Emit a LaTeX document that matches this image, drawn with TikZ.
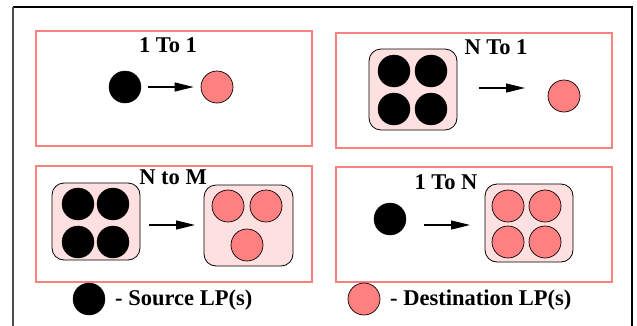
\documentclass[tikz,border=0pt]{standalone}
\usepackage{fontspec}
\setmainfont{Liberation Serif}
\usetikzlibrary{arrows.meta}
\definecolor{salmon}{HTML}{FF8080}
\definecolor{lightpink}{HTML}{FFE0E0}
\tikzset{
  panel/.style={draw=salmon, line width=2pt},
  src/.style={circle, fill=black, draw=black, minimum size=32pt, inner sep=0pt},
  dst/.style={circle, fill=salmon, draw=black, line width=0.7pt, minimum size=32pt, inner sep=0pt},
  grp/.style={draw=black, fill=lightpink, rounded corners=12pt, line width=0.8pt},
  arr/.style={draw=black, line width=1.2pt, -{Triangle[length=19pt,width=9pt]}},
  ttl/.style={font=\fontsize{22.5}{26}\selectfont\bfseries, inner sep=0pt},
}
\begin{document}
\begin{tikzpicture}[x=1pt,y=-1pt]
\useasboundingbox (0,0) rectangle (637,325);
\clip (0,0) rectangle (637,325);
\draw[line width=1.2pt] (13,7) -- (632,7) -- (632,330);
\draw[line width=1.2pt, black!70] (13,7) -- (13,330);
% Panel 1: 1 To 1
\draw[panel] (36,31) rectangle (312,146);
\node[ttl] (t1) at (168,45) {1 To 1};
\node[src] (a1) at (125,87) {};
\node[dst] (b1) at (217,87) {};
\draw[arr, shorten <=7pt, shorten >=7pt] (a1) -- (b1);
% Panel 2: N To 1
\draw[panel] (336,33) rectangle (612,148);
\node[ttl] (t2) at (496,47) {N To 1};
\draw[grp] (369,49) rectangle (457,130);
\node[src] (a2a) at (394,71) {};
\node[src] (a2b) at (431,71) {};
\node[src] (a2c) at (394,109) {};
\node[src] (a2d) at (431,109) {};
\node[dst] (b2) at (564,96) {};
\coordinate (s2) at (479,88);
\coordinate (e2) at (525,88);
\draw[arr] (s2) -- (e2);
% Panel 3: N to M
\draw[panel] (36,166) rectangle (312,282);
\draw[grp] (52,183) rectangle (140,260);
\draw[grp] (204,185) rectangle (293,266);
\node[ttl] (t3) at (173,177) {N to M};
\node[src] (a3a) at (78,204) {};
\node[src] (a3b) at (113,204) {};
\node[src] (a3c) at (78,242) {};
\node[src] (a3d) at (113,242) {};
\node[dst] (b3a) at (228,206) {};
\node[dst] (b3b) at (266,206) {};
\node[dst] (b3c) at (247,245) {};
\coordinate (s3) at (149,225);
\coordinate (e3) at (195,225);
\draw[arr] (s3) -- (e3);
% Panel 4: 1 To N
\draw[panel] (336,167) rectangle (612,282);
\node[ttl] (t4) at (446,182) {1 To N};
\node[src] (a4) at (390,219) {};
\draw[grp] (485,184) rectangle (573,262);
\node[dst] (b4a) at (508,206) {};
\node[dst] (b4b) at (545,206) {};
\node[dst] (b4c) at (508,242) {};
\node[dst] (b4d) at (545,242) {};
\coordinate (s4) at (424,225);
\coordinate (e4) at (470,225);
\draw[arr] (s4) -- (e4);
% Legend
\node[src] (ls) at (89,299) {};
\node[ttl, anchor=west] (lst) at (115,300) {- Source LP(s)};
\node[dst] (ld) at (364,299) {};
\node[ttl, anchor=west] (ldt) at (390,300) {- Destination LP(s)};
\end{tikzpicture}
\end{document}
